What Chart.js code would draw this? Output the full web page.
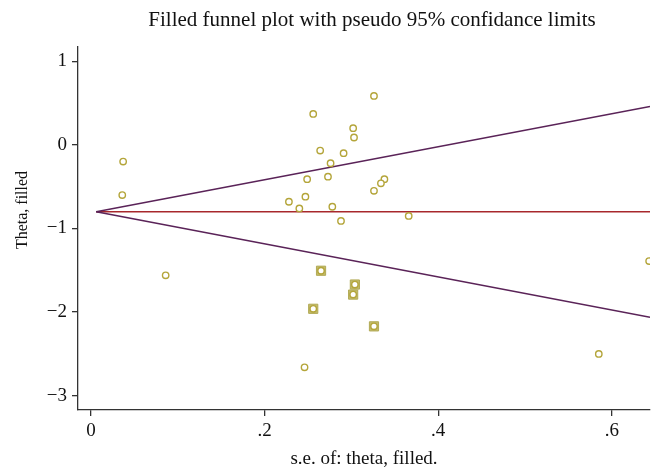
<!DOCTYPE html>
<html>
<head>
<meta charset="utf-8">
<script src="https://cdn.jsdelivr.net/npm/chart.js@4"></script>
<style>
  body { margin: 0; background: #fff; overflow: hidden; }
  #wrap { width: 652px; height: 470px; }
</style>
</head>
<body>
<div id="wrap"><canvas id="myChart"></canvas></div>
<script>
// observed studies (se, theta)
const obsSe    = [0.037, 0.036, 0.086, 0.256, 0.326, 0.302, 0.303, 0.264, 0.291, 0.276, 0.249, 0.273, 0.338, 0.334, 0.326, 0.247, 0.228, 0.240, 0.278, 0.288, 0.366, 0.246, 0.643, 0.585];
const obsTheta = [-0.20, -0.60, -1.56, 0.37, 0.585, 0.20, 0.088, -0.068, -0.10, -0.22, -0.41, -0.38, -0.41, -0.46, -0.55, -0.62, -0.68, -0.76, -0.74, -0.91, -0.85, -2.66, -1.39, -2.50];

// filled (imputed) studies
const fillSe    = [0.265, 0.304, 0.302, 0.256, 0.326];
const fillTheta = [-1.505, -1.67, -1.79, -1.96, -2.17];

// pooled estimate and pseudo 95% limits (end points)
const lineSe   = [0.006, 0.644];
const pooled   = [-0.80, -0.80];
const upperLim = [-0.80, 0.46];
const lowerLim = [-0.80, -2.06];

const yTicks = [-3, -2, -1, 0, 1];
const xTicks = [0, 0.2, 0.4, 0.6];

const titleText = "Filled funnel plot with pseudo 95% confidance limits";
const yTitle = "Theta, filled";
const xTitle = "s.e. of: theta, filled.";

const font = "'Liberation Serif', 'DejaVu Serif', serif";
const axisColor = '#333333';

function pts(xs, ys) {
  return xs.map((x, i) => ({ x: x, y: ys[i] }));
}

const allSe = obsSe.concat(fillSe);
const allTheta = obsTheta.concat(fillTheta);

// title and y axis title drawn by hand so they sit where the reference has them
const textPlugin = {
  id: 'texts',
  afterDraw(chart) {
    const c = chart.ctx;
    c.save();
    c.fillStyle = '#111';
    c.textAlign = 'center';
    c.textBaseline = 'middle';
    c.font = '21px ' + font;
    c.fillText(titleText, 372, 20);
    c.translate(23, 210);
    c.rotate(-Math.PI / 2);
    c.font = '16px ' + font;
    c.fillText(yTitle, 0, 0);
    c.restore();
  }
};

const ctx = document.getElementById('myChart').getContext('2d');
const chart = new Chart(ctx, {
  type: 'scatter',
  data: {
    datasets: [
      {
        label: 'pooled',
        type: 'line',
        data: pts(lineSe, pooled),
        borderColor: '#a8282c',
        borderWidth: 1.5,
        pointRadius: 0,
        showLine: true,
        order: 5
      },
      {
        label: 'upper',
        type: 'line',
        data: pts(lineSe, upperLim),
        borderColor: '#5a2358',
        borderWidth: 1.5,
        pointRadius: 0,
        showLine: true,
        order: 4
      },
      {
        label: 'lower',
        type: 'line',
        data: pts(lineSe, lowerLim),
        borderColor: '#5a2358',
        borderWidth: 1.5,
        pointRadius: 0,
        showLine: true,
        order: 4
      },
      {
        label: 'filled',
        data: pts(fillSe, fillTheta),
        pointStyle: 'rect',
        pointRadius: 6.5,
        backgroundColor: '#c2bb6c',
        borderColor: '#b2aa55',
        borderWidth: 1,
        order: 2
      },
      {
        label: 'studies',
        data: pts(allSe, allTheta),
        pointStyle: 'circle',
        pointRadius: 3.2,
        backgroundColor: '#ffffff',
        borderColor: '#b4a53a',
        borderWidth: 1.4,
        order: 1
      }
    ]
  },
  options: {
    responsive: true,
    maintainAspectRatio: false,
    animation: false,
    layout: { autoPadding: false, padding: { top: 47, right: 2, left: 0, bottom: 0 } },
    plugins: {
      legend: { display: false },
      tooltip: { enabled: false }
    },
    scales: {
      x: {
        type: 'linear',
        min: -0.015,
        max: 0.644,
        afterFit: s => { s.height = 60; s.paddingRight = 0; s.paddingLeft = 0; },
        afterBuildTicks: s => { s.ticks = xTicks.map(v => ({ value: v })); },
        border: { display: true, color: axisColor, width: 1.3 },
        grid: { drawOnChartArea: false, drawTicks: true, tickLength: 6, color: axisColor, lineWidth: 1.3 },
        ticks: {
          color: '#111',
          padding: 4,
          font: { family: font, size: 19 },
          callback: v => v === 0 ? '0' : String(v).replace(/^0/, '')
        },
        title: {
          display: true,
          text: xTitle,
          color: '#111',
          font: { family: font, size: 19 },
          padding: { top: 0, bottom: 0 }
        }
      },
      y: {
        type: 'linear',
        min: -3.17,
        max: 1.17,
        afterFit: s => { s.width = 78; s.paddingTop = 0; s.paddingBottom = 0; },
        afterBuildTicks: s => { s.ticks = yTicks.map(v => ({ value: v })); },
        border: { display: true, color: axisColor, width: 1.3 },
        grid: { drawOnChartArea: false, drawTicks: true, tickLength: 6, color: axisColor, lineWidth: 1.3 },
        ticks: {
          color: '#111',
          padding: 5,
          font: { family: font, size: 19 },
          callback: v => v < 0 ? '\u2212' + Math.abs(v) : String(v)
        }
      }
    }
  },
  plugins: [textPlugin]
});
</script>
</body>
</html>
